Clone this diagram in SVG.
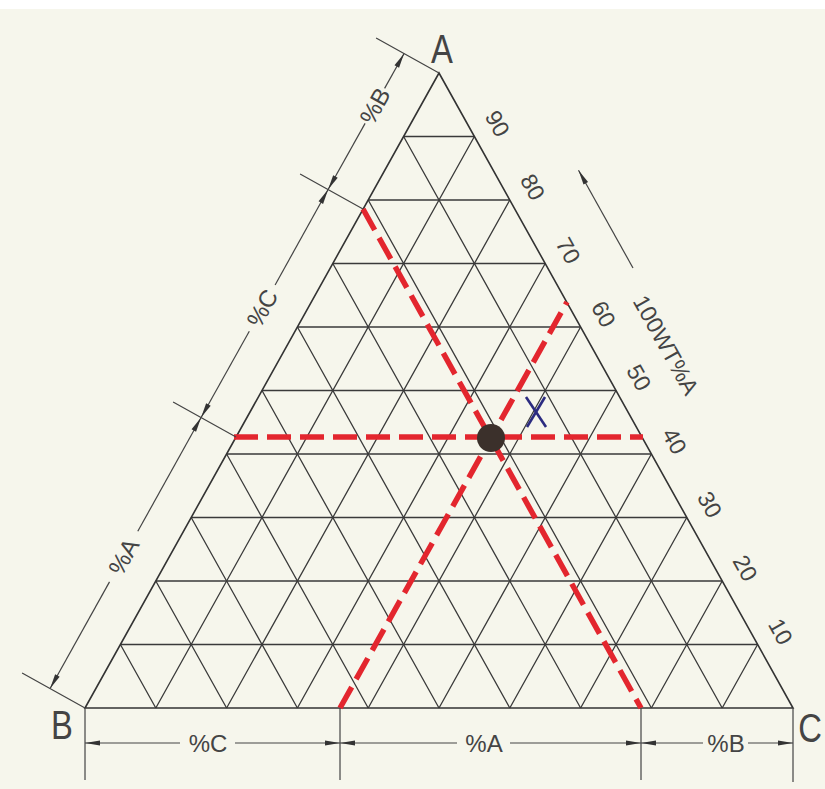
<svg xmlns="http://www.w3.org/2000/svg" width="825" height="789" viewBox="0 0 825 789">
<defs>
<style>
.g{stroke:#3a3a3a;stroke-width:1.3;fill:none}
.o{stroke:#333;stroke-width:1.6;fill:none}
.d{stroke:#444;stroke-width:1.2;fill:none}
.r{stroke:#e3262e;stroke-width:5.5;stroke-dasharray:24 9;fill:none}
.t{font-family:"Liberation Sans",Arial,sans-serif;fill:#444}
.n{font-size:23px;text-anchor:middle;dominant-baseline:central}
.dl{font-size:24px;text-anchor:middle;dominant-baseline:central}
.c{font-size:40px;text-anchor:middle}
</style>
<marker id="ar" markerUnits="userSpaceOnUse" markerWidth="30" markerHeight="30" refX="0" refY="0" orient="auto-start-reverse" overflow="visible">
<path d="M0,0 L-15,-2.6 L-15,2.6 Z" fill="#333"/>
</marker>
</defs>
<rect width="825" height="789" fill="#f6f6ec"/>
<rect width="825" height="9" fill="#ffffff"/>

<g id="grid">
<path class="g" d="M403.6,136.5H474.4M368.2,200H509.8M332.8,263.5H545.2M297.4,327H580.6M262,390.5H616M226.6,454H651.4M191.2,517.5H686.8M155.8,581H722.2M120.4,644.5H757.6"/>
<path class="g" d="M403.6,136.5L722.2,708M368.2,200L651.4,708M332.8,263.5L580.6,708M297.4,327L509.8,708M262,390.5L439,708M226.6,454L368.2,708M191.2,517.5L297.4,708M155.8,581L226.6,708M120.4,644.5L155.8,708"/>
<path class="g" d="M474.4,136.5L155.8,708M509.8,200L226.6,708M545.2,263.5L297.4,708M580.6,327L368.2,708M616,390.5L439,708M651.4,454L509.8,708M686.8,517.5L580.6,708M722.2,581L651.4,708M757.6,644.5L722.2,708"/>
</g>
<g id="triangle">
<path class="o" d="M439,73L85,708L793,708Z"/>
</g>

<g id="connectors">
<line class="r" x1="234" y1="437" x2="643" y2="437"/>
<line class="r" x1="363" y1="209" x2="641" y2="708"/>
<line class="r" x1="340" y1="708" x2="567" y2="302"/>
</g>

<g id="point">
<circle cx="491" cy="438" r="14" fill="#3b302b"/>
</g>
<g id="x-mark" stroke="#2b2b80" stroke-width="2.6">
<line x1="526" y1="397" x2="546" y2="427"/>
<line x1="545" y1="397" x2="527" y2="427"/>
</g>

<g id="dim-left">
<path class="d" d="M439,73L376.1,37.9M363,209L300.1,173.9M236,437L173.1,401.9M85,708L22.1,672.9"/>
<line class="d" x1="404.1" y1="53.5" x2="384.6" y2="88.4" marker-start="url(#ar)"/>
<line class="d" x1="365.1" y1="123.4" x2="328.1" y2="189.5" marker-end="url(#ar)"/>
<line class="d" x1="328.1" y1="189.5" x2="275.1" y2="285" marker-start="url(#ar)"/>
<line class="d" x1="249.3" y1="331.2" x2="201.1" y2="417.5" marker-end="url(#ar)"/>
<line class="d" x1="201.1" y1="417.5" x2="137.8" y2="531.3" marker-start="url(#ar)"/>
<line class="d" x1="109.5" y1="581.9" x2="50.1" y2="688.5" marker-end="url(#ar)"/>
<text class="t dl" transform="translate(374.9,105.9) rotate(-60.86)">%B</text>
<text class="t dl" transform="translate(262.2,308.1) rotate(-60.86)">%C</text>
<text class="t dl" transform="translate(123.6,556.6) rotate(-60.86)">%A</text>
</g>

<g id="dim-bottom">
<path class="d" d="M85,708V780M340,708V780M641,708V780M793,708V782"/>
<line class="d" x1="85" y1="743" x2="180" y2="743" marker-start="url(#ar)"/>
<line class="d" x1="235" y1="743" x2="340" y2="743" marker-end="url(#ar)"/>
<line class="d" x1="340" y1="743" x2="457" y2="743" marker-start="url(#ar)"/>
<line class="d" x1="510" y1="743" x2="641" y2="743" marker-end="url(#ar)"/>
<line class="d" x1="641" y1="743" x2="703" y2="743" marker-start="url(#ar)"/>
<line class="d" x1="748" y1="743" x2="793" y2="743" marker-end="url(#ar)"/>
<text class="t dl" x="208" y="743">%C</text>
<text class="t dl" x="484" y="743">%A</text>
<text class="t dl" x="726" y="743">%B</text>
</g>

<g id="scale">
<text class="t n" transform="translate(497.4,123.5) rotate(60.86)">90</text>
<text class="t n" transform="translate(532.8,187) rotate(60.86)">80</text>
<text class="t n" transform="translate(568.2,250.5) rotate(60.86)">70</text>
<text class="t n" transform="translate(603.6,314) rotate(60.86)">60</text>
<text class="t n" transform="translate(639,377.5) rotate(60.86)">50</text>
<text class="t n" transform="translate(674.4,441) rotate(60.86)">40</text>
<text class="t n" transform="translate(709.8,504.5) rotate(60.86)">30</text>
<text class="t n" transform="translate(745.2,568) rotate(60.86)">20</text>
<text class="t n" transform="translate(780.6,631.5) rotate(60.86)">10</text>
<line class="d" x1="633" y1="268" x2="578.5" y2="170.2" marker-end="url(#ar)"/>
<text class="t n" transform="translate(666,345) rotate(60.86)">100WT%A</text>
</g>

<g id="corners">
<text class="t c" transform="translate(442,63) scale(0.82,1)">A</text>
<text class="t c" transform="translate(62,739) scale(0.82,1)">B</text>
<text class="t c" transform="translate(810,742) scale(0.82,1)">C</text>
</g>
</svg>
